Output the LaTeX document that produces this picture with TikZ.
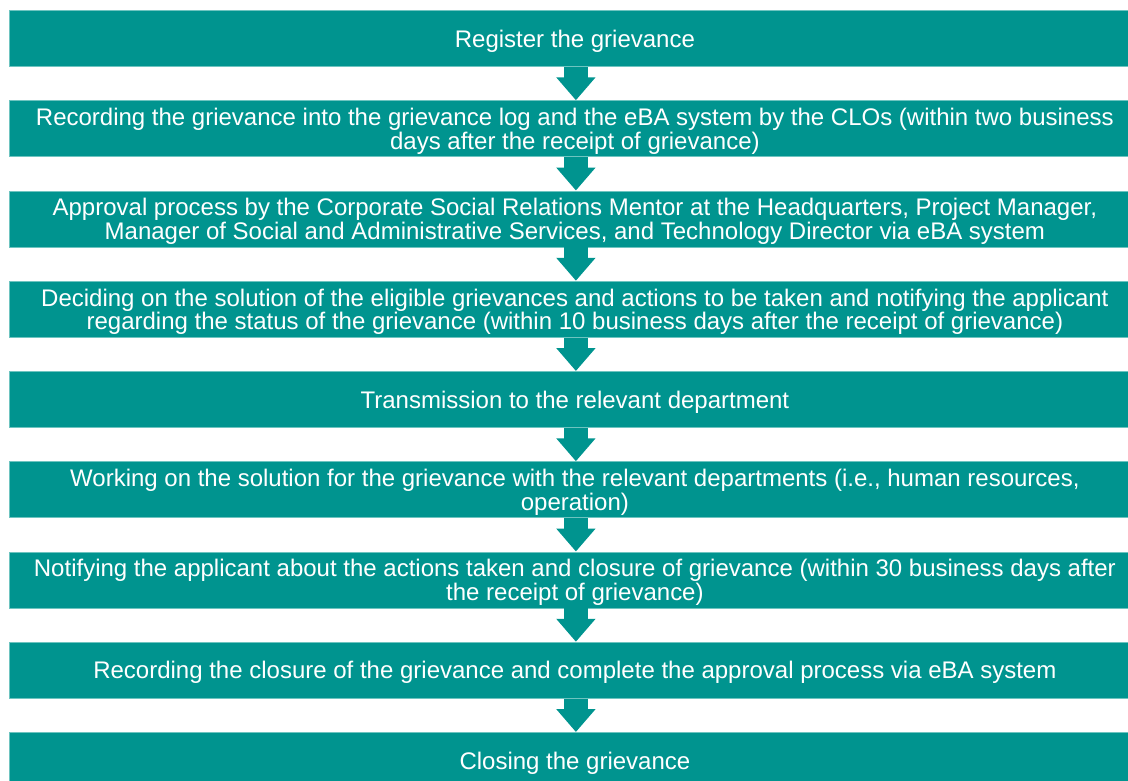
\documentclass[tikz,border=0pt]{standalone}
\usepackage{fontspec}
\setmainfont{Liberation Sans}
\usetikzlibrary{arrows.meta}
\definecolor{teal1}{RGB}{0,148,143}
\definecolor{tealedge}{RGB}{110,196,192}
\tikzset{
  stepbox/.style={anchor=north west, fill=teal1, draw=tealedge, line width=0.8pt,
    minimum width=1131pt, minimum height=56pt, inner sep=0pt,
    align=center, text=white, text depth=0pt, font=\fontsize{24pt}{24pt}\selectfont},
  flow/.style={draw=teal1, line width=24pt, -{Triangle[width=38pt,length=23pt]}}
}
\begin{document}
\begin{tikzpicture}[x=1pt,y=-1pt]
\useasboundingbox (0,0) rectangle (1128,780);
\clip (0,0) rectangle (1128,780);
\node[stepbox] (b1) at (9,10) {Register the grievance};
\node[stepbox] (b2) at (9,100.25) {\shortstack{Recording the grievance into the grievance log and the eBA system by the CLOs (within two business\\[-2pt]days after the receipt of grievance)}};
\node[stepbox] (b3) at (9,190.5) {\shortstack{Approval process by the Corporate Social Relations Mentor at the Headquarters, Project Manager,\\[-2pt]Manager of Social and Administrative Services, and Technology Director via eBA system}};
\node[stepbox] (b4) at (9,280.75) {\shortstack{Deciding on the solution of the eligible grievances and actions to be taken and notifying the applicant\\[-2pt]regarding the status of the grievance (within 10 business days after the receipt of grievance)}};
\node[stepbox] (b5) at (9,371) {Transmission to the relevant department};
\node[stepbox] (b6) at (9,461.25) {\shortstack{Working on the solution for the grievance with the relevant departments (i.e., human resources,\\[-2pt]operation)}};
\node[stepbox] (b7) at (9,551.5) {\shortstack{Notifying the applicant about the actions taken and closure of grievance (within 30 business days after\\[-2pt]the receipt of grievance)}};
\node[stepbox] (b8) at (9,641.75) {Recording the closure of the grievance and complete the approval process via eBA system};
\node[stepbox] (b9) at (9,732) {Closing the grievance};
\foreach \a/\b in {b1/b2,b2/b3,b3/b4,b4/b5,b5/b6,b6/b7,b7/b8,b8/b9}{
  \draw[flow] ([xshift=1pt]\a.south) -- ([xshift=1pt]\b.north);
}
\end{tikzpicture}
\end{document}
